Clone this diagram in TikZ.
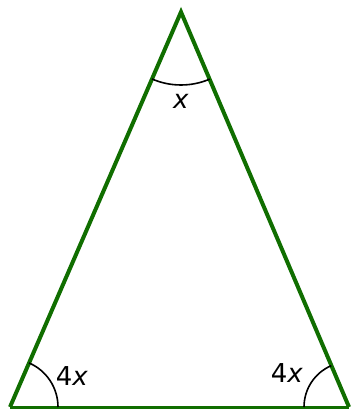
\documentclass[tikz,border=0pt]{standalone}
\usepackage{fontspec}
\setmainfont{DejaVu Sans}
\usetikzlibrary{calc}
\definecolor{trigreen}{RGB}{16,110,0}
\begin{document}
\begin{tikzpicture}[x=1pt,y=-1pt,
  side/.style={draw=trigreen,line width=4pt,line join=miter},
  base/.style={draw=trigreen,line width=3pt},
  anglearc/.style={draw=black,line width=1.6pt},
  lbl/.style={font=\fontsize{26}{26}\selectfont,inner sep=0pt}]
\useasboundingbox (0,0) rectangle (351,409);
\coordinate (A) at (181,12);
\coordinate (B) at (10,407);
\coordinate (C) at (349,407);
\draw[base] (B) -- (C);
\draw[side] (B) -- (A) -- (C);
% angle arcs
\draw[anglearc] ($(B)+(0:48)$) arc[start angle=0,end angle=-66.6,radius=48];
\draw[anglearc] ($(C)+(180:45)$) arc[start angle=180,end angle=246.8,radius=45];
\draw[anglearc] ($(A)+(66.8:73)$) arc[start angle=66.8,end angle=113.4,radius=73];
\node[lbl] (la) at (181,101) {\textit{x}};
\node[lbl] (lb) at (72,376) {4\textit{x}};
\node[lbl] (lc) at (287,373) {4\textit{x}};
\end{tikzpicture}
\end{document}
